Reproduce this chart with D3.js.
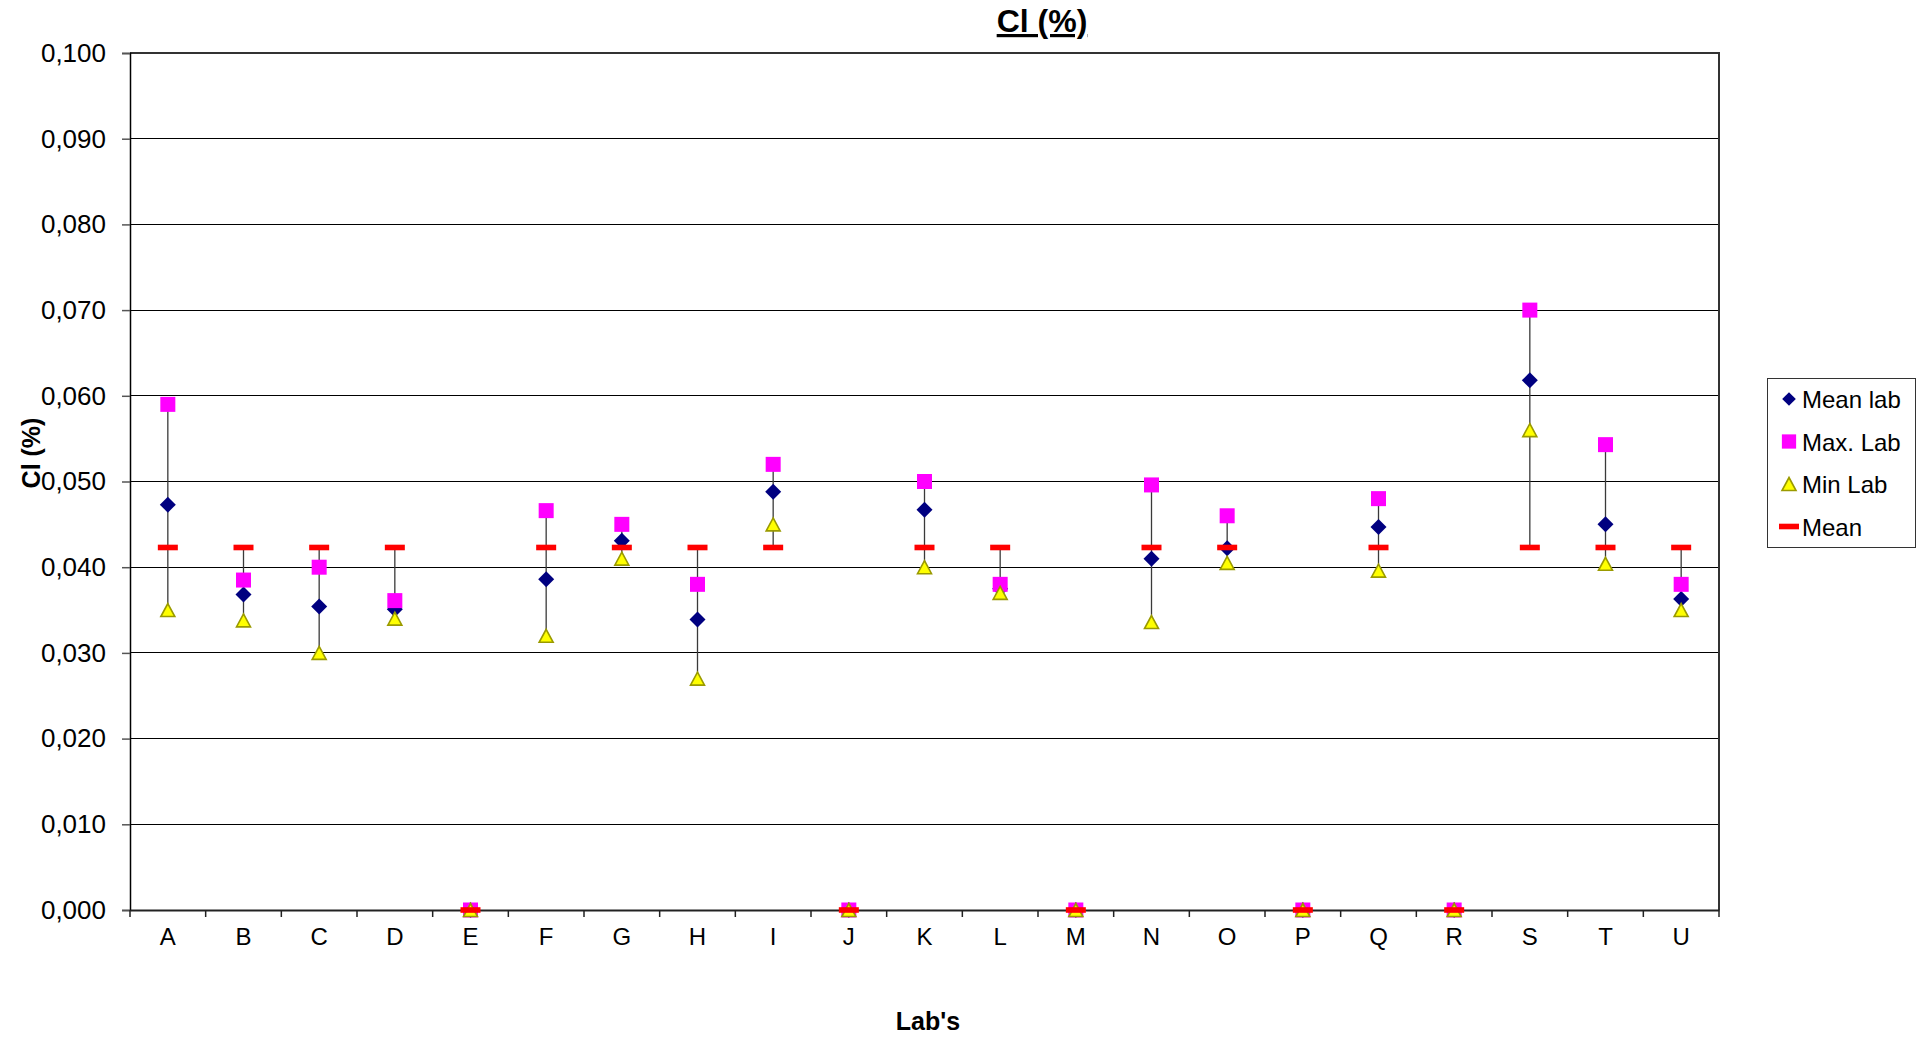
<!DOCTYPE html>
<html>
<head>
<meta charset="utf-8">
<script src="https://cdn.jsdelivr.net/npm/d3@7"></script>
<style>
  html, body { margin: 0; padding: 0; background: #fff; }
  svg { display: block; font-family: "Liberation Sans", Arial, sans-serif; }
</style>
</head>
<body>
<svg id="chart" width="1922" height="1041"></svg>
<script>
// Laboratories on the x axis
const labs = ["A","B","C","D","E","F","G","H","I","J","K","L","M","N","O","P","Q","R","S","T","U"];

// Cl (%) per laboratory
const meanLab = [0.0473,0.0368,0.0354,0.0351,0,0.0386,0.0431,0.0339,0.0488,0,0.0467,0.0375,0,0.0410,0.0422,0,0.0447,0,0.0618,0.0450,0.0363];
const maxLab  = [0.0590,0.0385,0.0400,0.0361,0,0.0466,0.0450,0.0380,0.0520,0,0.0500,0.0380,0,0.0496,0.0460,0,0.0480,0,0.0700,0.0543,0.0380];
const minLab  = [0.0350,0.0338,0.0300,0.0340,0,0.0320,0.0410,0.0270,0.0450,0,0.0400,0.0370,0,0.0336,0.0405,0,0.0396,0,0.0560,0.0404,0.0350];
const overallMean = [0.0423,0.0423,0.0423,0.0423,0,0.0423,0.0423,0.0423,0.0423,0,0.0423,0.0423,0,0.0423,0.0423,0,0.0423,0,0.0423,0.0423,0.0423];

// Y axis ticks
const yTicks = [0,0.01,0.02,0.03,0.04,0.05,0.06,0.07,0.08,0.09,0.1];

const legendItems = [
  {label: "Mean lab", kind: "diamond"},
  {label: "Max. Lab", kind: "square"},
  {label: "Min Lab",  kind: "triangle"},
  {label: "Mean",     kind: "dash"}
];

const colors = {diamond: "#000080", square: "#FF00FF", triangle: "#FFFF00", triangleStroke: "#9A9A00", dash: "#FF0000"};

const svg = d3.select("#chart");
const plot = {left: 130, right: 1719, top: 53, bottom: 910};

const x = d3.scaleBand().domain(labs).range([plot.left, plot.right]).padding(0);
const y = d3.scaleLinear().domain([0, 0.1]).range([plot.bottom, plot.top]);

const fmt = d3.formatLocale({decimal: ",", thousands: ".", grouping: [3], currency: ["", ""]}).format(".3f");

// horizontal gridlines
svg.append("g").selectAll("line")
  .data(yTicks.filter(v => v > 0 && v < 0.1))
  .join("line")
  .attr("x1", plot.left).attr("x2", plot.right)
  .attr("y1", d => y(d)).attr("y2", d => y(d))
  .attr("stroke", "#000").attr("stroke-width", 1)
  .attr("shape-rendering", "crispEdges");

// plot frame: top and right edges
svg.append("path")
  .attr("d", `M${plot.left},${y(0.1)}H${plot.right}V${plot.bottom}`)
  .attr("fill", "none").attr("stroke", "#333").attr("stroke-width", 2);

// y axis
const yAxis = svg.append("g")
  .attr("transform", `translate(${plot.left},0)`)
  .call(d3.axisLeft(y).tickValues(yTicks).tickFormat(fmt).tickSize(8).tickPadding(16));
yAxis.select(".domain").attr("stroke", "#000").attr("stroke-width", 1.5);
yAxis.selectAll(".tick line").attr("stroke", "#555").attr("stroke-width", 1.5);
yAxis.selectAll(".tick text").attr("font-size", 26).attr("fill", "#000")
  .attr("font-family", "Liberation Sans, Arial, sans-serif");

// x axis: labels centred in each band, ticks at band boundaries
const xAxis = svg.append("g")
  .attr("transform", `translate(0,${plot.bottom})`)
  .call(d3.axisBottom(x).tickSize(0).tickPadding(18));
xAxis.select(".domain").attr("stroke", "#222").attr("stroke-width", 2);
xAxis.selectAll(".tick text").attr("font-size", 24).attr("fill", "#000")
  .attr("font-family", "Liberation Sans, Arial, sans-serif");

const bounds = labs.map(d => x(d)).concat([x.range()[1]]);
svg.append("g").selectAll("line")
  .data(bounds).join("line")
  .attr("x1", d => d).attr("x2", d => d)
  .attr("y1", plot.bottom).attr("y2", plot.bottom + 7)
  .attr("stroke", "#222").attr("stroke-width", 1.5);

// per-lab records
const rows = labs.map((lab, i) => ({
  lab, meanLab: meanLab[i], maxLab: maxLab[i], minLab: minLab[i], mean: overallMean[i]
}));
const cx = d => x(d.lab) + x.bandwidth() / 2;

// high-low lines spanning all series of a lab
svg.append("g").selectAll("line")
  .data(rows).join("line")
  .attr("x1", cx).attr("x2", cx)
  .attr("y1", d => y(Math.max(d.meanLab, d.maxLab, d.minLab, d.mean)))
  .attr("y2", d => y(Math.min(d.meanLab, d.maxLab, d.minLab, d.mean)))
  .attr("stroke", "#3a3a3a").attr("stroke-width", 1.3);

// marker shapes
function drawMarker(sel, kind) {
  if (kind === "diamond") {
    sel.append("path").attr("d", "M0,-8L8,0L0,8L-8,0Z").attr("fill", colors.diamond);
  } else if (kind === "square") {
    sel.append("rect").attr("x", -7.5).attr("y", -7.5).attr("width", 15).attr("height", 15).attr("fill", colors.square);
  } else if (kind === "triangle") {
    sel.append("path").attr("d", "M0,-6.5L7,6.5L-7,6.5Z")
      .attr("fill", colors.triangle).attr("stroke", colors.triangleStroke).attr("stroke-width", 1.6);
  } else {
    sel.append("rect").attr("x", -10).attr("y", -2.8).attr("width", 20).attr("height", 5.6).attr("fill", colors.dash);
  }
}

const series = [
  {key: "meanLab", kind: "diamond"},
  {key: "maxLab", kind: "square"},
  {key: "minLab", kind: "triangle"},
  {key: "mean", kind: "dash"}
];
series.forEach(s => {
  svg.append("g").selectAll("g")
    .data(rows).join("g")
    .attr("transform", d => `translate(${cx(d)},${y(d[s.key])})`)
    .each(function() { drawMarker(d3.select(this), s.kind); });
});

// title
svg.append("text")
  .attr("x", 1042).attr("y", 32)
  .attr("text-anchor", "middle")
  .attr("font-size", 32).attr("font-weight", "bold")
  .attr("text-decoration", "underline")
  .text("Cl (%)");

// axis titles
svg.append("text")
  .attr("transform", "translate(40,453) rotate(-90)")
  .attr("text-anchor", "middle")
  .attr("font-size", 25).attr("font-weight", "bold")
  .text("Cl (%)");

svg.append("text")
  .attr("x", 928).attr("y", 1030)
  .attr("text-anchor", "middle")
  .attr("font-size", 25).attr("font-weight", "bold")
  .text("Lab's");

// legend
const legend = svg.append("g");
legend.append("rect")
  .attr("x", 1767.5).attr("y", 378.5).attr("width", 148).attr("height", 169)
  .attr("fill", "#fff").attr("stroke", "#333").attr("stroke-width", 1);
const li = legend.selectAll("g.item")
  .data(legendItems).join("g").attr("class", "item")
  .attr("transform", (d, i) => `translate(0,${399 + i * 42.5})`);
li.each(function(d) {
  const g = d3.select(this);
  const m = g.append("g").attr("transform", "translate(1789,0)");
  drawMarker(m, d.kind);
  if (d.kind === "diamond") m.select("path").attr("transform", "scale(0.85)");
  if (d.kind === "square") m.select("rect").attr("transform", "scale(0.95)");
  g.append("text").attr("x", 1802).attr("y", 9)
    .attr("font-size", 24).text(d.label);
});
</script>
</body>
</html>
